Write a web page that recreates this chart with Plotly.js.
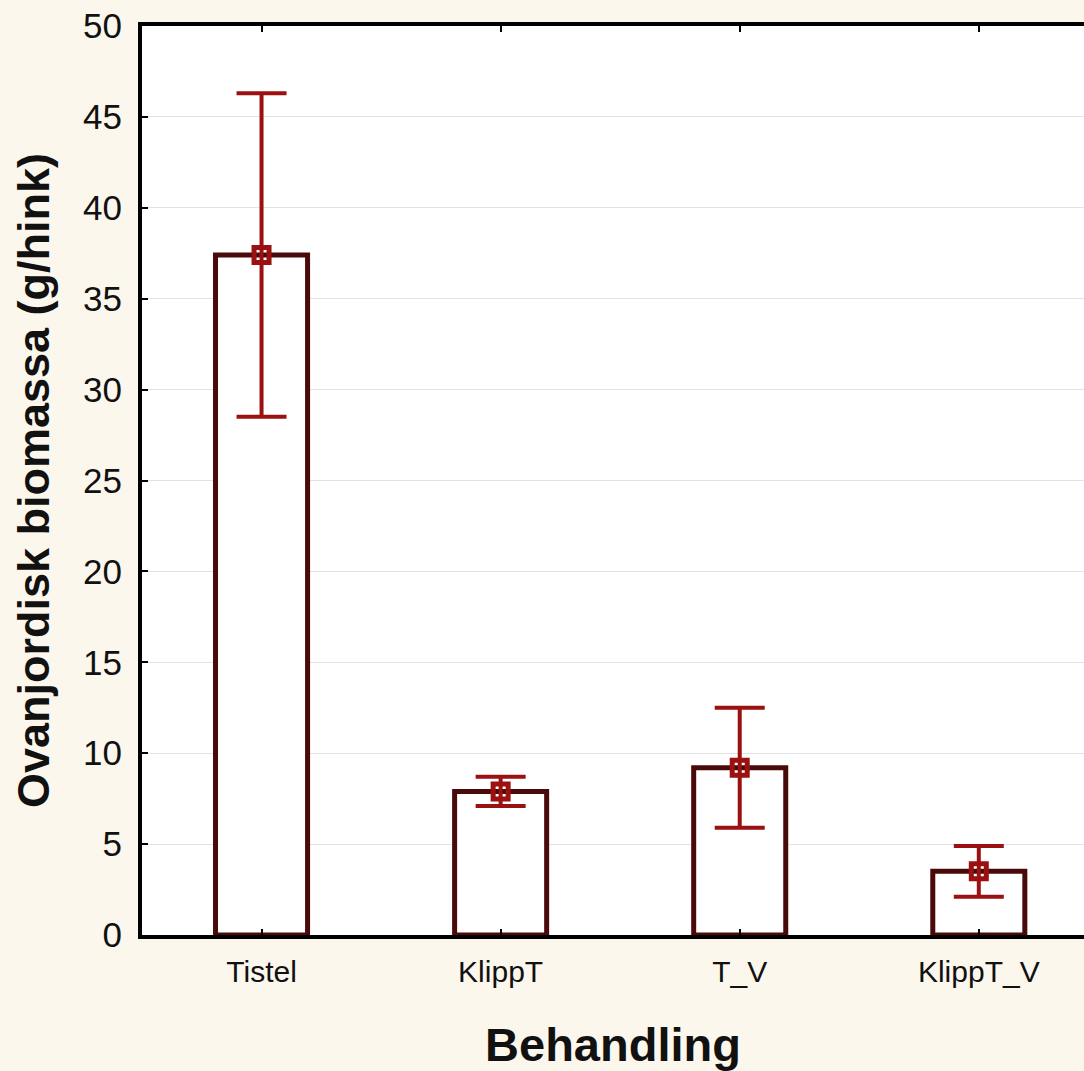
<!DOCTYPE html>
<html>
<head>
<meta charset="utf-8">
<script src="https://cdn.plot.ly/plotly-3.0.1.min.js"></script>
<style>html,body{margin:0;padding:0;background:#FCF7EC;}#chart{width:1084px;height:1071px;}</style>
</head>
<body>
<div id="chart"></div>
<script>
const categories = ["Tistel", "KlippT", "T_V", "KlippT_V"];
const means = [37.4, 7.9, 9.2, 3.5];
const errors = [8.9, 0.8, 3.3, 1.4];
const yTicks = [0, 5, 10, 15, 20, 25, 30, 35, 40, 45, 50];

const xIdx = categories.map((c, i) => i);

const barTrace = {
  type: "bar",
  x: xIdx,
  y: means,
  width: 0.385,
  marker: {color: "#FFFFFF", line: {color: "#4A0A0A", width: 5}},
  hoverinfo: "skip",
  showlegend: false
};
const pointTrace = {
  type: "scatter",
  mode: "markers",
  x: xIdx,
  y: means,
  marker: {symbol: "square-open", size: 15, color: "#9B1111", line: {color: "#9B1111", width: 5}},
  error_y: {type: "data", array: errors, visible: true, color: "#9B1111", thickness: 4, width: 25},
  showlegend: false
};

const layout = {
  width: 1084,
  height: 1071,
  paper_bgcolor: "#FCF7EC",
  plot_bgcolor: "#FFFFFF",
  margin: {l: 142, r: 0, t: 26, b: 136},
  font: {family: "Liberation Sans, Arial, sans-serif", color: "#111111"},
  xaxis: {
    range: [-0.5, 3.44],
    tickmode: "array",
    tickvals: xIdx,
    ticktext: categories,
    ticks: "inside",
    ticklen: 6,
    tickwidth: 2,
    tickcolor: "#000000",
    ticklabelstandoff: 7,
    showline: true,
    linecolor: "#000000",
    linewidth: 4,
    mirror: "ticks",
    showgrid: false,
    zeroline: false,
    tickfont: {size: 30, color: "#111111"},
    title: {text: "<b>Behandling</b>", font: {size: 47, color: "#111111"}, standoff: 48}
  },
  yaxis: {
    range: [0, 50],
    tickmode: "array",
    tickvals: yTicks,
    ticks: "inside",
    ticklen: 6,
    tickwidth: 2,
    tickcolor: "#000000",
    ticklabelstandoff: 9,
    showline: true,
    linecolor: "#000000",
    linewidth: 4,
    showgrid: true,
    gridcolor: "#E2E2E2",
    gridwidth: 1,
    zeroline: false,
    tickfont: {size: 35, color: "#111111"},
    title: {text: "<b>Ovanjordisk biomassa (g/hink)</b>", font: {size: 45, color: "#111111"}, standoff: 20}
  },
  bargap: 0
};

Plotly.newPlot("chart", [barTrace, pointTrace], layout, {displayModeBar: false, staticPlot: true});
</script>
</body>
</html>
